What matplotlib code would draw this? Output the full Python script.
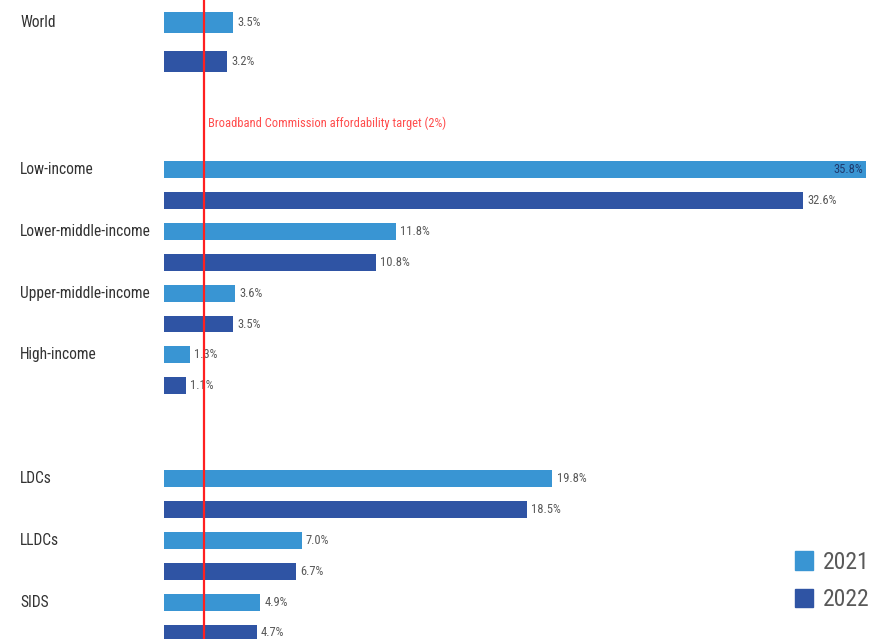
import matplotlib.pyplot as plt
from matplotlib.patches import Patch
from matplotlib.transforms import blended_transform_factory

plt.rcParams['font.family'] = ['Arial Narrow', 'Liberation Sans Narrow', 'Roboto Condensed',
                               'Archivo Narrow', 'PT Sans Narrow', 'IBM Plex Sans Condensed',
                               'DejaVu Sans']

# mobile broadband basket price as % of GNI per capita
categories = ["World", "Low-income", "Lower-middle-income", "Upper-middle-income",
              "High-income", "LDCs", "LLDCs", "SIDS"]
v2021 = [3.5, 35.8, 11.8, 3.6, 1.3, 19.8, 7.0, 4.9]
v2022 = [3.2, 32.6, 10.8, 3.5, 1.1, 18.5, 6.7, 4.7]
years = ["2021", "2022"]
target = 2.0

c21 = '#3995d3'
c22 = '#2f54a4'
grey = '#595959'

W, H, dpi = 879, 639, 100
slot_px = 30.9        # row pitch of the lower block, in pixels
zero_px = 169.5       # pixel row of slot 0
left_px, scale_px = 164.5, 19.59   # pixel of 0% and pixels per percentage point

fig = plt.figure(figsize=(W / dpi, H / dpi), dpi=dpi)
ax = fig.add_axes([left_px / W, 0, 36 * scale_px / W, 1])
ax.set_xlim(0, 36)
ax.set_ylim((H - zero_px) / slot_px, -zero_px / slot_px)
ax.axis('off')

# row positions: World sits apart with its own wider spacing
pos21, pos22, heights = [], [], []
for i, name in enumerate(categories):
    if i == 0:
        start, step, h = -4.77, 1.26, 0.68
    else:
        start, step, h = 2 * (i - 1) + (2 if i >= 5 else 0), 1.0, 0.55
    pos21.append(start)
    pos22.append(start + step)
    heights.append(h)

ax.barh(pos21, v2021, height=heights, color=c21, zorder=2)
ax.barh(pos22, v2022, height=heights, color=c22, zorder=2)

# value labels
for p, v in zip(pos21 + pos22, v2021 + v2022):
    if v > 34:
        ax.annotate(f"{v:.1f}%", (v, p), xytext=(-2, 0), textcoords='offset points',
                    ha='right', va='center', fontsize=9, color='#1f3a6e', zorder=3)
    else:
        ax.annotate(f"{v:.1f}%", (v, p), xytext=(3, 0), textcoords='offset points',
                    ha='left', va='center', fontsize=9, color=grey, zorder=3)

# category names at the left edge of the figure
tr = blended_transform_factory(fig.transFigure, ax.transData)
for name, p in zip(categories, pos21):
    ax.text(20 / W, p, name, transform=tr, ha='left', va='center',
            fontsize=11.2, color='#333333')

# affordability target line
ax.axvline(target, color='#ff2020', lw=1.6, zorder=4)
ax.annotate("Broadband Commission affordability target (2%)", (target, -1.5),
            xytext=(3, 0), textcoords='offset points', ha='left', va='center',
            fontsize=9, color='#ff4d4d')

handles = [Patch(color=c21), Patch(color=c22)]
fig.legend(handles, years, loc='upper left', bbox_to_anchor=(795 / W, 1 - 551 / H),
           frameon=False, fontsize=17, handlelength=0.76, handleheight=0.85,
           handletextpad=0.42, labelspacing=0.6, borderpad=0, borderaxespad=0,
           labelcolor=grey)

fig.savefig('out.png', dpi=dpi)
